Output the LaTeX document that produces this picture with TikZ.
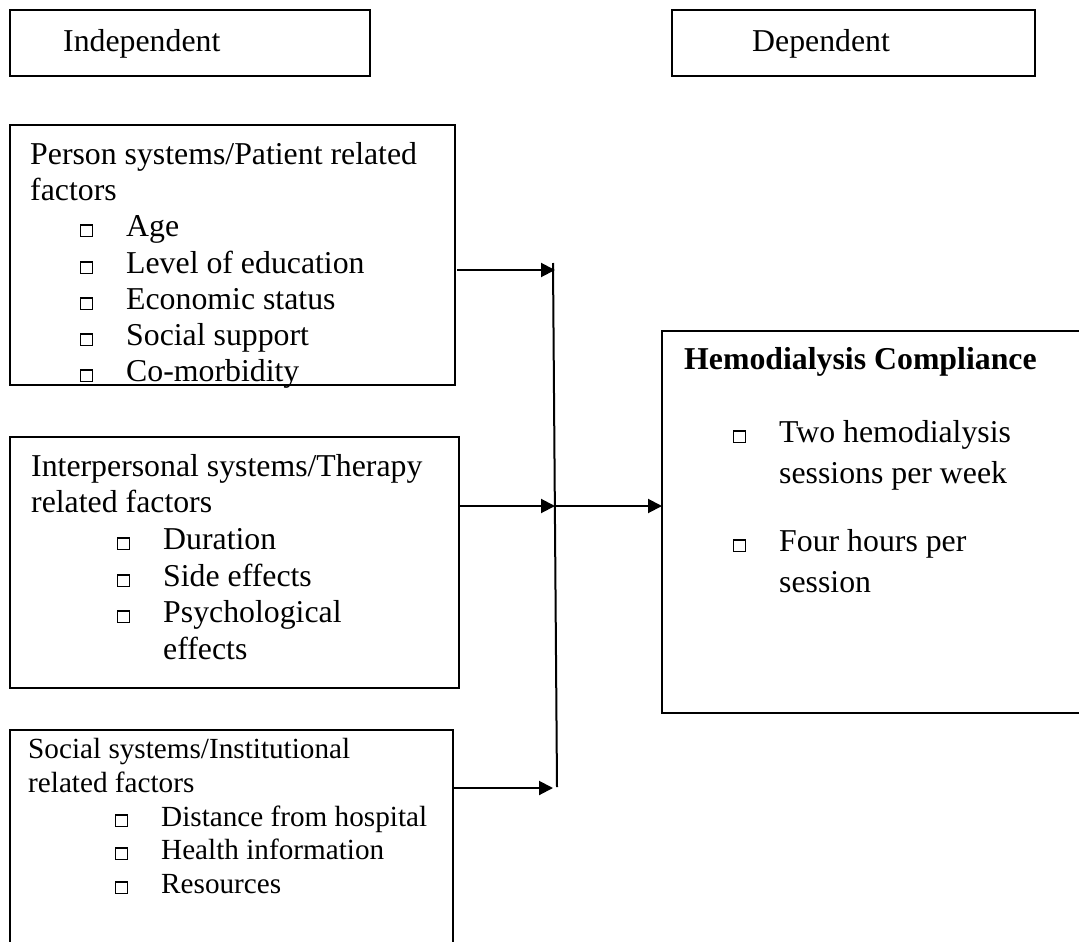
\documentclass[tikz,border=0pt]{standalone}
\usepackage{fontspec}
\setmainfont{Liberation Serif}
\usetikzlibrary{arrows.meta}
\newcommand{\sqbox}{{\setlength{\fboxsep}{0pt}\setlength{\fboxrule}{1.1pt}\fbox{\rule{0pt}{10.5pt}\rule{10.5pt}{0pt}}}}
\newcommand{\itm}[1]{\makebox[46pt][l]{\sqbox}#1}
\begin{document}
\begin{tikzpicture}[x=1pt,y=-1pt,
 box/.style={draw,line width=1.4pt,anchor=north west,inner sep=0pt,outer sep=0pt},
 txt/.style={anchor=base west,inner sep=0pt,font=\fontsize{31.8}{36}\selectfont},
 stxt/.style={anchor=base west,inner sep=0pt,font=\fontsize{29.2}{34}\selectfont},
 conn/.style={line width=2pt},
 arr/.style={line width=2pt,-{Triangle[length=14pt,width=14pt]}}]
\clip (0,0) rectangle (1079,942);
% header boxes
\node[box,minimum width=360pt,minimum height=66pt] (indep) at (10,10) {};
\node[txt] (indepT) at (63,52) {Independent};
\node[box,minimum width=363pt,minimum height=66pt] (dep) at (672,10) {};
\node[txt] (depT) at (752,52) {Dependent};
% person box
\node[box,minimum width=445pt,minimum height=260pt] (person) at (10,125) {};
\node[txt] (p1) at (30,164) {Person systems/Patient related};
\node[txt] (p2) at (30,200) {factors};
\node[txt] (p3) at (80,236) {\itm{Age}};
\node[txt] (p4) at (80,273) {\itm{Level of education}};
\node[txt] (p5) at (80,309) {\itm{Economic status}};
\node[txt] (p6) at (80,345) {\itm{Social support}};
\node[txt] (p7) at (80,381) {\itm{Co-morbidity}};
% interpersonal box
\node[box,minimum width=449pt,minimum height=251pt] (inter) at (10,437) {};
\node[txt] (i1) at (31,476) {Interpersonal systems/Therapy};
\node[txt] (i2) at (31,512) {related factors};
\node[txt] (i3) at (117,549) {\itm{Duration}};
\node[txt] (i4) at (117,586) {\itm{Side effects}};
\node[txt] (i5) at (117,622) {\itm{Psychological}};
\node[txt] (i6) at (163,659) {effects};
% social box
\node[box,minimum width=443pt,minimum height=240pt] (social) at (10,730) {};
\node[stxt] (s1) at (28,758) {Social systems/Institutional};
\node[stxt] (s2) at (28,792) {related factors};
\node[stxt] (s3) at (115,826) {\itm{Distance from hospital}};
\node[stxt] (s4) at (115,859) {\itm{Health information}};
\node[stxt] (s5) at (115,893) {\itm{Resources}};
% hemodialysis box
\node[box,minimum width=440pt,minimum height=382pt] (hemo) at (662,331) {};
\node[txt] (h1) at (684,369) {\textbf{Hemodialysis Compliance}};
\node[txt] (h2) at (733,442) {\itm{Two hemodialysis}};
\node[txt] (h3) at (779,483) {sessions per week};
\node[txt] (h4) at (733,551) {\itm{Four hours per}};
\node[txt] (h5) at (779,592) {session};
% connectors
\coordinate (vtop) at (553,263);
\coordinate (vbot) at (557,787);
\draw[conn] (vtop) -- (vbot);
\coordinate (j1) at (555,270);
\coordinate (j2) at (555,506);
\coordinate (j4) at (553,788);
\draw[arr] ([xshift=2pt]person.east |- j1) -- (j1);
\draw[arr] (inter.east |- j2) -- (j2);
\draw[arr] (j2) -- (hemo.west |- j2);
\draw[arr] (social.east |- j4) -- (j4);
\end{tikzpicture}
\end{document}
